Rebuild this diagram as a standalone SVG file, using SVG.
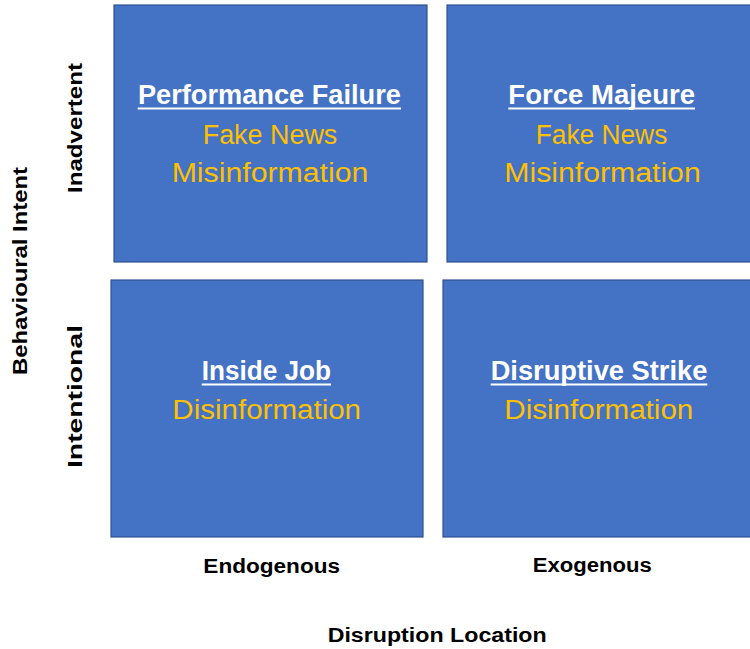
<svg xmlns="http://www.w3.org/2000/svg" width="750" height="649" viewBox="0 0 750 649">
<style>
.box{fill:#4472C4;stroke:#2F528F;stroke-width:1.2}
.title{font-family:"Liberation Sans",Arial,sans-serif;font-weight:bold;font-size:27px;fill:#FFFFFF;text-anchor:middle}
.sub{font-family:"Liberation Sans",Arial,sans-serif;font-size:27px;fill:#FFC000;text-anchor:middle}
.ul{stroke:#FFFFFF;stroke-width:2}
.axis{font-family:"Liberation Sans",Arial,sans-serif;font-weight:bold;font-size:20px;fill:#000000;text-anchor:middle}
</style>
<rect width="750" height="649" fill="#FFFFFF"/>
<g id="performance-failure">
<rect class="box" x="114" y="5" width="313" height="257"/>
<text class="title" x="269.4" y="104" textLength="263" lengthAdjust="spacingAndGlyphs">Performance Failure</text>
<line class="ul" x1="137.7" y1="108.5" x2="401" y2="108.5"/>
<text class="sub" x="270" y="144" textLength="134.6" lengthAdjust="spacingAndGlyphs">Fake News</text>
<text class="sub" x="270" y="181.5" textLength="196.6" lengthAdjust="spacingAndGlyphs">Misinformation</text>
</g>
<g id="force-majeure">
<rect class="box" x="447" y="5" width="304" height="257"/>
<text class="title" x="601.7" y="104" textLength="186.7" lengthAdjust="spacingAndGlyphs">Force Majeure</text>
<line class="ul" x1="508.3" y1="108.5" x2="695" y2="108.5"/>
<text class="sub" x="601.5" y="144" textLength="131.6" lengthAdjust="spacingAndGlyphs">Fake News</text>
<text class="sub" x="602.5" y="181.5" textLength="196.4" lengthAdjust="spacingAndGlyphs">Misinformation</text>
</g>
<g id="inside-job">
<rect class="box" x="111" y="280" width="312" height="257"/>
<text class="title" x="266.4" y="379.5" textLength="129.3" lengthAdjust="spacingAndGlyphs">Inside Job</text>
<line class="ul" x1="201.7" y1="384.5" x2="331" y2="384.5"/>
<text class="sub" x="266.7" y="419.3" textLength="188.7" lengthAdjust="spacingAndGlyphs">Disinformation</text>
</g>
<g id="disruptive-strike">
<rect class="box" x="443" y="280" width="308" height="257"/>
<text class="title" x="599" y="379.5" textLength="216.6" lengthAdjust="spacingAndGlyphs">Disruptive Strike</text>
<line class="ul" x1="490.7" y1="384.5" x2="707.3" y2="384.5"/>
<text class="sub" x="598.8" y="419.3" textLength="189" lengthAdjust="spacingAndGlyphs">Disinformation</text>
</g>
<g id="connectors"></g>
<g id="axis-labels">
<text class="axis" x="271.7" y="573.3" textLength="136.7" lengthAdjust="spacingAndGlyphs">Endogenous</text>
<text class="axis" x="592.2" y="572.3" textLength="119" lengthAdjust="spacingAndGlyphs">Exogenous</text>
<text class="axis" x="437.2" y="641.7" textLength="219" lengthAdjust="spacingAndGlyphs">Disruption Location</text>
<text class="axis" transform="translate(81.5,128) rotate(-90)" x="0" y="0" textLength="130" lengthAdjust="spacingAndGlyphs">Inadvertent</text>
<text class="axis" transform="translate(81.5,396.5) rotate(-90)" x="0" y="0" textLength="143" lengthAdjust="spacingAndGlyphs">Intentional</text>
<text class="axis" transform="translate(26.5,271) rotate(-90)" x="0" y="0" textLength="208" lengthAdjust="spacingAndGlyphs">Behavioural Intent</text>
</g>
</svg>
